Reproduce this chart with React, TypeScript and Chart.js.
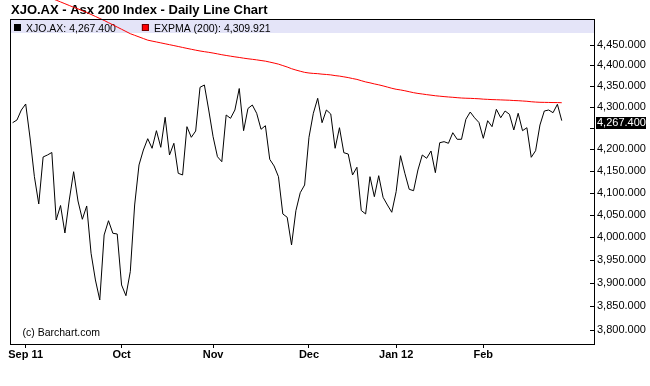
import React, { useEffect, useRef } from 'react';
import { Chart, registerables } from 'chart.js';

Chart.register(...registerables);

const chartTitle = 'XJO.AX - Asx 200 Index - Daily Line Chart';
const seriesName = 'XJO.AX';
const maName = 'EXPMA (200)';
const credit = '(c) Barchart.com';

// trading days (month -> day numbers)
const tradingDays: [string, number[]][] = [
  ['2011-08', [29, 30, 31]],
  ['2011-09', [1, 2, 5, 6, 7, 8, 9, 12, 13, 14, 15, 16, 19, 20, 21, 22, 23, 26, 27, 28, 29, 30]],
  ['2011-10', [3, 4, 5, 6, 7, 10, 11, 12, 13, 14, 17, 18, 19, 20, 21, 24, 25, 26, 27, 28, 31]],
  ['2011-11', [1, 2, 3, 4, 7, 8, 9, 10, 11, 14, 15, 16, 17, 18, 21, 22, 23, 24, 25, 28, 29, 30]],
  ['2011-12', [1, 2, 5, 6, 7, 8, 9, 12, 13, 14, 15, 16, 19, 20, 21, 22, 23, 28, 29, 30]],
  ['2012-01', [3, 4, 5, 6, 9, 10, 11, 12, 13, 16, 17, 18, 19, 20, 23, 24, 25, 27, 30, 31]],
  ['2012-02', [1, 2, 3, 6, 7, 8, 9, 10, 13, 14, 15, 16, 17, 20, 21, 22, 23, 24, 27]],
];
const dates: string[] = tradingDays.flatMap(([m, days]) =>
  days.map((d) => `${m}-${String(d).padStart(2, '0')}`)
);

const closes = [
  4262.5, 4268.9, 4292.6, 4306.9, 4226.5, 4136.9, 4074.8, 4182.3, 4186.9, 4192.7,
  4038.8, 4071.4, 4009.8, 4083.8, 4148.3, 4081.5, 4040.4, 4070.3, 3965.0, 3906.8,
  3863.7, 4005.4, 4037.2, 4009.2, 4007.6, 3896.0, 3872.9, 3924.8, 4072.5, 4163.8,
  4198.5, 4224.9, 4202.5, 4243.7, 4204.8, 4275.3, 4186.9, 4214.1, 4144.7, 4140.8,
  4253.1, 4228.2, 4242.9, 4346.9, 4352.5, 4292.6, 4229.6, 4183.0, 4171.4, 4280.7,
  4272.9, 4292.6, 4344.0, 4243.7, 4296.2, 4304.5, 4284.8, 4247.0, 4255.4, 4176.9,
  4161.5, 4136.9, 4052.3, 4044.9, 3983.3, 4059.7, 4100.4, 4117.9, 4228.2, 4284.8,
  4320.5, 4262.5, 4292.6, 4283.1, 4202.5, 4250.7, 4192.2, 4189.2, 4140.8, 4158.5,
  4060.1, 4052.3, 4136.9, 4091.3, 4139.2, 4089.9, 4072.5, 4056.1, 4102.6, 4185.3,
  4144.7, 4108.1, 4104.9, 4152.3, 4186.9, 4179.3, 4196.2, 4146.1, 4215.5, 4217.9,
  4214.1, 4238.9, 4223.5, 4223.5, 4270.5, 4287.8, 4274.1, 4263.0, 4225.8, 4267.2,
  4253.1, 4294.3, 4274.3, 4290.2, 4282.4, 4245.3, 4284.8, 4243.7, 4250.7, 4181.6,
  4196.9, 4257.1, 4290.2, 4292.6, 4286.2, 4306.2, 4267.4,
];

const expma = [
  4598.0, 4594.8, 4591.6, 4588.8, 4586.0, 4581.9, 4577.2, 4573.8, 4569.8, 4566.0,
  4562.0, 4557.5, 4553.0, 4548.5, 4544.0, 4540.0, 4535.5, 4531.0, 4526.0, 4521.0,
  4516.0, 4511.0, 4505.5, 4500.0, 4494.5, 4489.0, 4483.5, 4478.0, 4474.0, 4470.0,
  4466.0, 4462.0, 4459.7, 4457.5, 4455.3, 4453.0, 4450.8, 4448.6, 4446.3, 4444.0,
  4441.7, 4439.5, 4437.3, 4435.3, 4433.6, 4432.0, 4430.2, 4428.2, 4426.1, 4424.3,
  4422.6, 4420.9, 4419.4, 4417.7, 4416.2, 4414.9, 4413.5, 4411.9, 4410.4, 4408.1,
  4405.7, 4403.1, 4399.6, 4396.1, 4392.0, 4388.7, 4385.8, 4383.1, 4381.5, 4380.5,
  4379.9, 4378.7, 4377.9, 4376.9, 4375.2, 4374.0, 4372.2, 4370.4, 4368.1, 4366.0,
  4362.9, 4359.9, 4357.7, 4355.1, 4352.9, 4350.3, 4347.5, 4344.6, 4342.2, 4340.6,
  4338.6, 4336.3, 4334.0, 4332.2, 4330.8, 4329.3, 4328.0, 4326.6, 4325.6, 4324.6,
  4323.7, 4322.9, 4322.0, 4321.2, 4320.7, 4320.4, 4319.9, 4319.4, 4318.5, 4318.0,
  4317.4, 4317.1, 4316.7, 4316.3, 4315.9, 4315.2, 4314.8, 4314.1, 4313.4, 4312.3,
  4311.5, 4311.0, 4310.8, 4310.6, 4310.4, 4310.3, 4309.921,
];

const yTickValues = [3800, 3850, 3900, 3950, 4000, 4050, 4100, 4150, 4200, 4250, 4300, 4350, 4400, 4450];
const monthNames = ['Jan', 'Feb', 'Mar', 'Apr', 'May', 'Jun', 'Jul', 'Aug', 'Sep', 'Oct', 'Nov', 'Dec'];

const FONT = '"Liberation Sans", Arial, Helvetica, sans-serif';

const fmt = (v: number) =>
  v.toLocaleString('en-US', { minimumFractionDigits: 3, maximumFractionDigits: 3 });

// month-start ticks derived from the trading dates
const monthTicks: { index: number; label: string }[] = [];
dates.forEach((d, i) => {
  if (i === 0) return;
  if (d.slice(0, 7) !== dates[i - 1].slice(0, 7)) {
    const yy = d.slice(2, 4);
    const m = parseInt(d.slice(5, 7), 10);
    const withYear = monthTicks.length === 0 || m === 1;
    monthTicks.push({ index: i, label: monthNames[m - 1] + (withYear ? ' ' + yy : '') });
  }
});
const tickLabelMap = new Map<number, string>(monthTicks.map((t) => [t.index, t.label]));

const lastClose = closes[closes.length - 1];
const lastMa = expma[expma.length - 1];

const decorPlugin = {
  id: 'decor',
  beforeDraw(chart: any) {
    const ctx = chart.ctx as CanvasRenderingContext2D;
    ctx.save();
    ctx.fillStyle = '#ffffff';
    ctx.fillRect(0, 0, chart.width, chart.height);
    ctx.fillStyle = '#000000';
    ctx.font = `bold 13px ${FONT}`;
    ctx.textAlign = 'left';
    ctx.textBaseline = 'alphabetic';
    ctx.fillText(chartTitle, 11, 14);
    ctx.restore();
  },
  beforeDatasetsDraw(chart: any) {
    const ctx = chart.ctx as CanvasRenderingContext2D;
    const a = chart.chartArea;
    ctx.save();
    // legend band
    ctx.fillStyle = '#e4e4f8';
    ctx.fillRect(a.left + 1, a.top + 1, a.right - a.left - 1, 13);
    ctx.font = `10.5px ${FONT}`;
    ctx.textAlign = 'left';
    ctx.textBaseline = 'alphabetic';
    const items = [
      { text: `${seriesName}: ${fmt(lastClose)}`, fill: '#000000', stroke: '#000000' },
      { text: `${maName}: ${fmt(lastMa)}`, fill: '#ff0000', stroke: '#700000' },
    ];
    let x = a.left + 4;
    items.forEach((it) => {
      ctx.fillStyle = it.fill;
      ctx.fillRect(x, a.top + 5, 7, 7);
      ctx.strokeStyle = it.stroke;
      ctx.lineWidth = 1;
      ctx.strokeRect(x + 0.5, a.top + 5.5, 6, 6);
      ctx.fillStyle = '#000000';
      ctx.fillText(it.text, x + 12, a.top + 12.5);
      x += 12 + ctx.measureText(it.text).width + 26;
    });
    // credit
    ctx.fillText(credit, a.left + 12.5, a.bottom - 8.5);
    ctx.restore();
  },
  afterDraw(chart: any) {
    const ctx = chart.ctx as CanvasRenderingContext2D;
    const a = chart.chartArea;
    const ys = chart.scales.y;
    ctx.save();
    ctx.strokeStyle = '#000000';
    ctx.lineWidth = 1;
    ctx.strokeRect(a.left + 0.5, a.top + 0.5, a.right - a.left, a.bottom - a.top);
    ctx.beginPath();
    ys.ticks.forEach((t: any) => {
      const py = Math.round(ys.getPixelForValue(t.value)) + 0.5;
      ctx.moveTo(a.right - 4, py);
      ctx.lineTo(a.right, py);
    });
    ctx.stroke();
    // last value highlight
    const py = ys.getPixelForValue(lastClose);
    ctx.fillStyle = '#000000';
    ctx.fillRect(a.right + 2, Math.round(py) - 4, 50, 12);
    ctx.fillStyle = '#ffffff';
    ctx.font = `11px ${FONT}`;
    ctx.textAlign = 'left';
    ctx.textBaseline = 'middle';
    ctx.fillText(fmt(lastClose), a.right + 3, Math.round(py) + 2);
    ctx.restore();
  },
};

export default function App() {
  const ref = useRef<HTMLCanvasElement>(null);
  useEffect(() => {
    document.body.style.margin = '0';
    const canvas = ref.current;
    if (!canvas) return;
    const chart = new Chart(canvas, {
      type: 'line',
      data: {
        datasets: [
          {
            label: seriesName,
            data: closes.map((v, i) => ({ x: i, y: v })),
            borderColor: '#000000',
            borderWidth: 1,
            pointRadius: 0,
            tension: 0,
            fill: false,
          },
          {
            label: maName,
            data: expma.map((v, i) => ({ x: i, y: v })),
            borderColor: '#ff0000',
            borderWidth: 1,
            pointRadius: 0,
            tension: 0,
            fill: false,
            clip: false,
          } as any,
        ],
      },
      options: {
        animation: false,
        responsive: false,
        devicePixelRatio: 1,
        events: [],
        layout: { padding: { left: 10, top: 19, right: 0, bottom: 0 } },
        plugins: {
          legend: { display: false },
          title: { display: false },
          tooltip: { enabled: false },
        },
        scales: {
          x: {
            type: 'linear',
            bounds: 'data',
            min: -0.6,
            max: 133.4,
            afterBuildTicks: (s: any) => {
              s.ticks = monthTicks.map((t) => ({ value: t.index }));
            },
            afterFit: (s: any) => {
              s.height = 42;
              s.paddingLeft = 0;
              s.paddingRight = 0;
            },
            grid: { display: true, drawOnChartArea: false, drawTicks: true, tickLength: 4, color: '#000000', lineWidth: 1 },
            border: { display: false },
            ticks: {
              autoSkip: false,
              maxRotation: 0,
              minRotation: 0,
              padding: 0,
              color: '#000000',
              font: { family: FONT, size: 11, weight: 'bold' },
              callback: (v: any) => tickLabelMap.get(Number(v)) ?? '',
            },
          },
          y: {
            type: 'logarithmic',
            position: 'right',
            bounds: 'data',
            min: 3770.6,
            max: 4514.6,
            afterBuildTicks: (s: any) => {
              s.ticks = yTickValues.map((v) => ({ value: v }));
            },
            afterFit: (s: any) => {
              s.width = 56;
              s.paddingTop = 0;
              s.paddingBottom = 0;
            },
            grid: { display: false, drawTicks: false },
            border: { display: false },
            ticks: {
              autoSkip: false,
              padding: 3,
              color: '#000000',
              font: { family: FONT, size: 11 },
              callback: (v: any) => (Math.abs(Number(v) - lastClose) < 20 ? '' : fmt(Number(v))),
            },
          },
        },
      } as any,
      plugins: [decorPlugin],
    });
    return () => chart.destroy();
  }, []);
  return (
    <div style={{ width: 650, height: 386 }}>
      <canvas ref={ref} width={650} height={386} style={{ display: 'block', width: 650, height: 386 }} />
    </div>
  );
}
